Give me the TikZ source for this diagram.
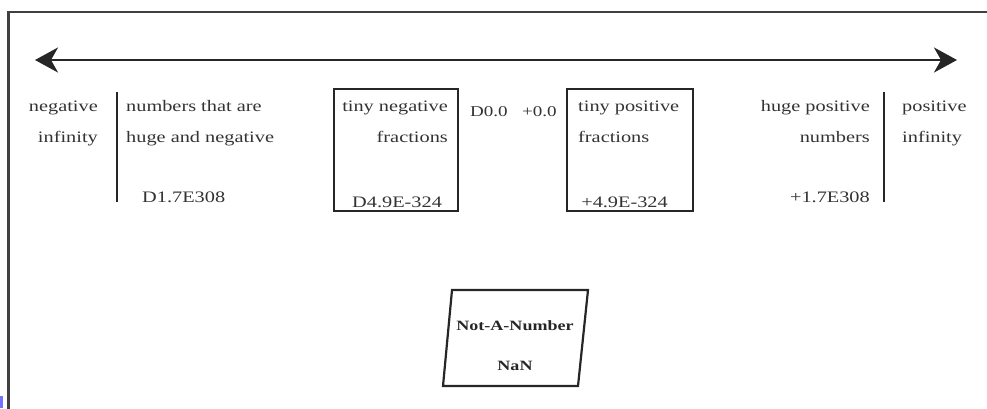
\documentclass[tikz,border=0pt]{standalone}
\usepackage{fontspec}
\setmainfont{Liberation Serif}[FakeStretch=1.27]
\usetikzlibrary{arrows.meta}

\begin{document}
\begin{tikzpicture}[
  x=1pt, y=-1pt,
  ink/.style={draw=black!85},
  lbl/.style={font=\fontsize{16}{19}\selectfont, inner sep=0pt, text=black!80},
  zerolbl/.style={font=\fontsize{15}{18}\selectfont, inner sep=0pt, text=black!80},
  boldlbl/.style={font=\fontsize{14.2}{17}\selectfont\bfseries, inner sep=0pt, text=black!85},
  divider/.style={ink, line width=2.6pt},
  rangebox/.style={ink, line width=2.2pt, minimum width=124pt, minimum height=122pt, inner sep=0pt},
  axis/.style={ink, line width=2.2pt, {Stealth[length=23pt,width=25pt,inset=7pt]}-{Stealth[length=23pt,width=25pt,inset=7pt]}},
]
\useasboundingbox (0,0) rectangle (987,408);

% outer frame (runs past the page on the right and bottom)
\draw[draw=black!75, line width=2.5pt] (987,12) -- (8.5,12) -- (8.5,410);
\fill[blue!55] (0,396) rectangle (2.5,408);

% number line
\coordinate (axisL) at (35,60);
\coordinate (axisR) at (957,60);
\draw[axis] (axisL) -- (axisR);

% dividers around the infinities
\coordinate (divLtop) at (117,92);
\coordinate (divLbot) at (117,202);
\coordinate (divRtop) at (884,92);
\coordinate (divRbot) at (884,202);
\draw[divider] (divLtop) -- (divLbot);
\draw[divider] (divRtop) -- (divRbot);

% boxes for the tiny fractions
\node[rangebox] (negbox) at (396,150) {};
\node[rangebox, minimum width=126pt] (posbox) at (630,150) {};

% negative infinity
\node[lbl, anchor=base east] (neginfA) at (98,111) {negative};
\node[lbl, anchor=base east] (neginfB) at (98,142) {infinity};

% huge negative numbers
\node[lbl, anchor=base west] (hugenegA) at (126,111) {numbers that are};
\node[lbl, anchor=base west] (hugenegB) at (126,142) {huge and negative};
\node[lbl, anchor=base west] (hugenegV) at (142,202) {D1.7E308};

% tiny negative fractions
\node[lbl, anchor=base east] (tinynegA) at (448,111) {tiny negative};
\node[lbl, anchor=base east] (tinynegB) at (448,142) {fractions};
\node[lbl, anchor=base west] (tinynegV) at (352,207) {D4.9E-324};

% signed zeros
\node[zerolbl, anchor=base west] (negzero) at (470,116) {D0.0};
\node[zerolbl, anchor=base west] (poszero) at (522,116) {+0.0};

% tiny positive fractions
\node[lbl, anchor=base west] (tinyposA) at (578,111) {tiny positive};
\node[lbl, anchor=base west] (tinyposB) at (578,142) {fractions};
\node[lbl, anchor=base east] (tinyposV) at (668,207) {+4.9E-324};

% huge positive numbers
\node[lbl, anchor=base east] (hugeposA) at (870,111) {huge positive};
\node[lbl, anchor=base east] (hugeposB) at (870,142) {numbers};
\node[lbl, anchor=base east] (hugeposV) at (870,202) {+1.7E308};

% positive infinity
\node[lbl, anchor=base west] (posinfA) at (902,111) {positive};
\node[lbl, anchor=base west] (posinfB) at (902,142) {infinity};

% not-a-number parallelogram
\coordinate (nanTL) at (452,290);
\coordinate (nanTR) at (588,290);
\coordinate (nanBR) at (578,386);
\coordinate (nanBL) at (443,386);
\draw[ink, line width=2.2pt, line join=miter] (nanTL) -- (nanTR) -- (nanBR) -- (nanBL) -- cycle;
\node[boldlbl, anchor=base] (nanA) at (515,330) {Not-A-Number};
\node[boldlbl, anchor=base] (nanB) at (515,370) {NaN};
\end{tikzpicture}
\end{document}
